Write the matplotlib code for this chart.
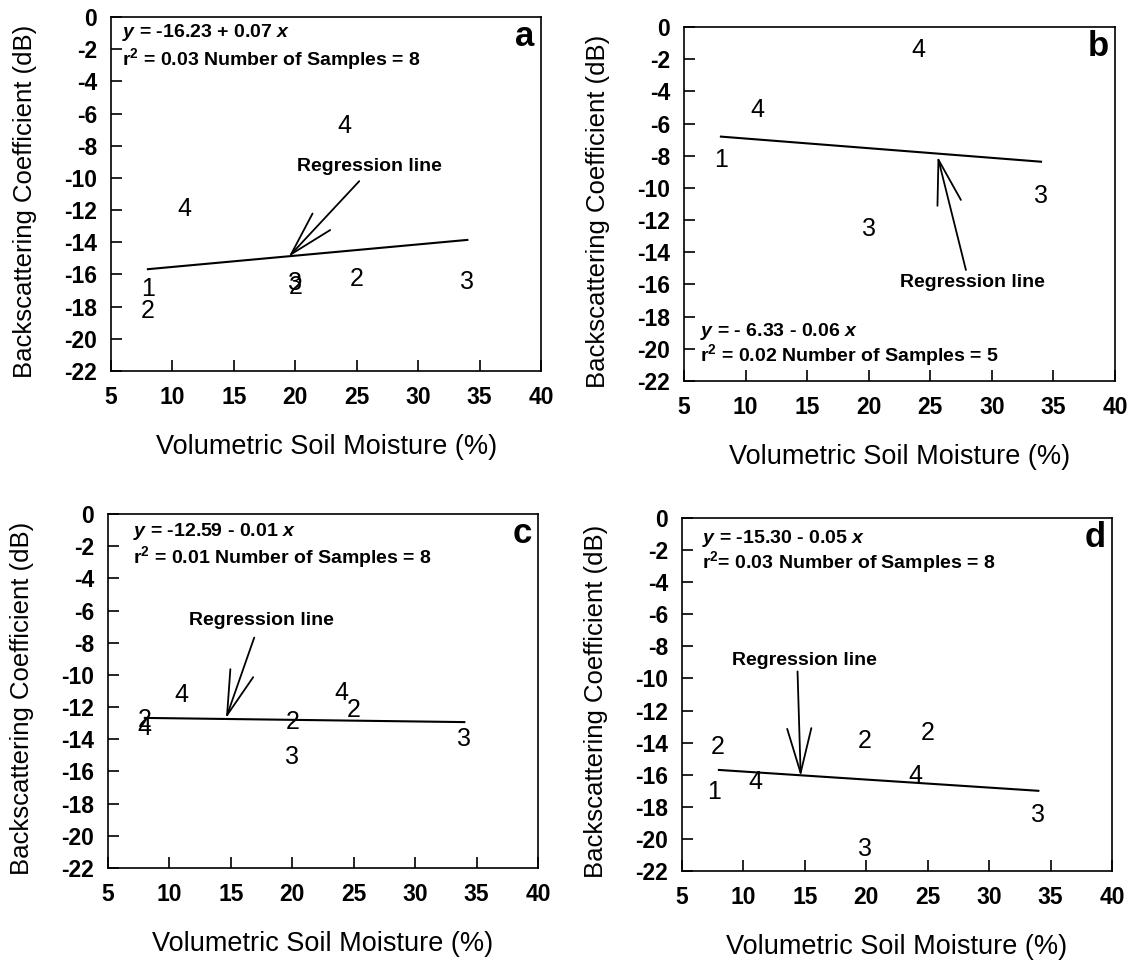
import matplotlib
matplotlib.use("Agg")
import matplotlib.pyplot as plt

plt.rcParams["font.family"] = ["Liberation Sans", "DejaVu Sans"]
plt.rcParams["axes.unicode_minus"] = False
plt.rcParams["mathtext.fontset"] = "custom"
plt.rcParams["mathtext.rm"] = "Liberation Sans:bold"
plt.rcParams["mathtext.it"] = "Liberation Sans:italic:bold"
plt.rcParams["mathtext.bf"] = "Liberation Sans:bold"

# soil moisture (%), backscatter (dB) and site number for each point
moist_a = [8, 8, 11, 24, 20, 20, 25, 34]
sigma_a = [-16.9, -18.3, -11.9, -6.8, -16.55, -16.75, -16.25, -16.45]
site_a = ["1", "2", "4", "4", "3", "2", "2", "3"]

moist_b = [24, 11, 8, 20, 34]
sigma_b = [-1.4, -5.15, -8.25, -12.55, -10.5]
site_b = ["4", "4", "1", "3", "3"]

moist_c = [11, 24, 25, 20, 20, 34, 8, 8]
sigma_c = [-11.25, -11.15, -12.2, -12.9, -15.1, -14.0, -12.8, -13.3]
site_c = ["4", "4", "2", "2", "3", "3", "2", "4"]

moist_d = [7.9, 7.6, 11, 19.9, 25, 24, 34, 19.9]
sigma_d = [-14.25, -17.05, -16.45, -13.9, -13.4, -16.1, -18.5, -20.6]
site_d = ["2", "1", "4", "2", "2", "4", "3", "3"]

# regression fits
intercepts = [-16.23, -6.33, -12.59, -15.30]
slopes = [0.07, -0.06, -0.01, -0.05]
fit_range = [8, 34]
eq_text = [
    "$y$ = -16.23 + 0.07 $x$",
    "$y$ = - 6.33 - 0.06 $x$",
    "$y$ = -12.59 - 0.01 $x$",
    "$y$ = -15.30 - 0.05 $x$",
]
stats_text = [
    "r$^2$ = 0.03 Number of Samples = 8",
    "r$^2$ = 0.02 Number of Samples = 5",
    "r$^2$ = 0.01 Number of Samples = 8",
    "r$^2$= 0.03 Number of Samples = 8",
]
letters = ["a", "b", "c", "d"]

# "Regression line" callouts (data coords): arrow tip, arrow tail, label centre
arrow_tip = [(19.46, -14.9), (25.6, -8.04), (14.6, -12.7), (14.66, -16.1)]
arrow_tail = [(25.2, -10.2), (27.9, -15.1), (16.9, -7.68), (14.4, -9.56)]
note_xy = [(26.0, -9.26), (28.4, -15.9), (17.5, -6.6), (15.0, -8.9)]

# axes boxes in figure fraction
axes_pos = [
    [0.0981, 0.6171, 0.3799, 0.3653],
    [0.6042, 0.6068, 0.3807, 0.3653],
    [0.0954, 0.1042, 0.3799, 0.3653],
    [0.6025, 0.1011, 0.3799, 0.3643],
]
# equation placement: (x, y of first line, y of second line) in axes fraction
eq_pos = [
    (0.026, 0.955, 0.882),
    (0.037, 0.139, 0.073),
    (0.058, 0.950, 0.879),
    (0.046, 0.943, 0.876),
]

panels = [
    (moist_a, sigma_a, site_a),
    (moist_b, sigma_b, site_b),
    (moist_c, sigma_c, site_c),
    (moist_d, sigma_d, site_d),
]

fig = plt.figure(figsize=(11.32, 9.69), dpi=100)

for k, (moist, sigma, sites) in enumerate(panels):
    ax = fig.add_axes(axes_pos[k])
    ax.set_xlim(5, 40)
    ax.set_ylim(-22, 0)
    ax.set_xticks(range(5, 41, 5))
    ax.set_yticks(range(0, -23, -2))
    ax.tick_params(direction="in", top=False, right=False, length=8,
                   width=1.2, labelsize=16.5)
    ax.tick_params(axis="x", pad=11)
    ax.tick_params(axis="y", pad=10)
    plt.setp(ax.get_xticklabels() + ax.get_yticklabels(), fontweight="bold")
    for sp in ax.spines.values():
        sp.set_linewidth(1.2)

    for xv, yv, s in zip(moist, sigma, sites):
        ax.text(xv, yv, s, ha="center", va="center", fontsize=18)

    xs = fit_range
    ys = [intercepts[k] + slopes[k] * v for v in xs]
    ax.plot(xs, ys, color="black", lw=1.5)

    ax.annotate("", xy=arrow_tip[k], xytext=arrow_tail[k],
                arrowprops=dict(arrowstyle="->,head_length=3.2,head_width=0.87",
                                mutation_scale=10, lw=1.3, color="black",
                                shrinkA=0, shrinkB=0))
    ax.text(note_xy[k][0], note_xy[k][1], "Regression line", ha="center",
            va="center", fontsize=14, fontweight="bold")

    ex, ey1, ey2 = eq_pos[k]
    ax.text(ex, ey1, eq_text[k], transform=ax.transAxes, ha="left",
            va="center", fontsize=14, fontweight="bold")
    ax.text(ex, ey2, stats_text[k], transform=ax.transAxes, ha="left",
            va="center", fontsize=14, fontweight="bold")

    ax.text(0.985, 0.945, letters[k], transform=ax.transAxes, ha="right",
            va="center", fontsize=25, fontweight="bold")

    ax.set_xlabel("Volumetric Soil Moisture (%)", fontsize=19.5, va="center")
    ax.xaxis.set_label_coords(0.5, -0.215)
    ax.set_ylabel("Backscattering Coefficient (dB)", fontsize=18.5, va="center")
    ax.yaxis.set_label_coords(-0.2, 0.48)

fig.savefig("out.png", dpi=100)
